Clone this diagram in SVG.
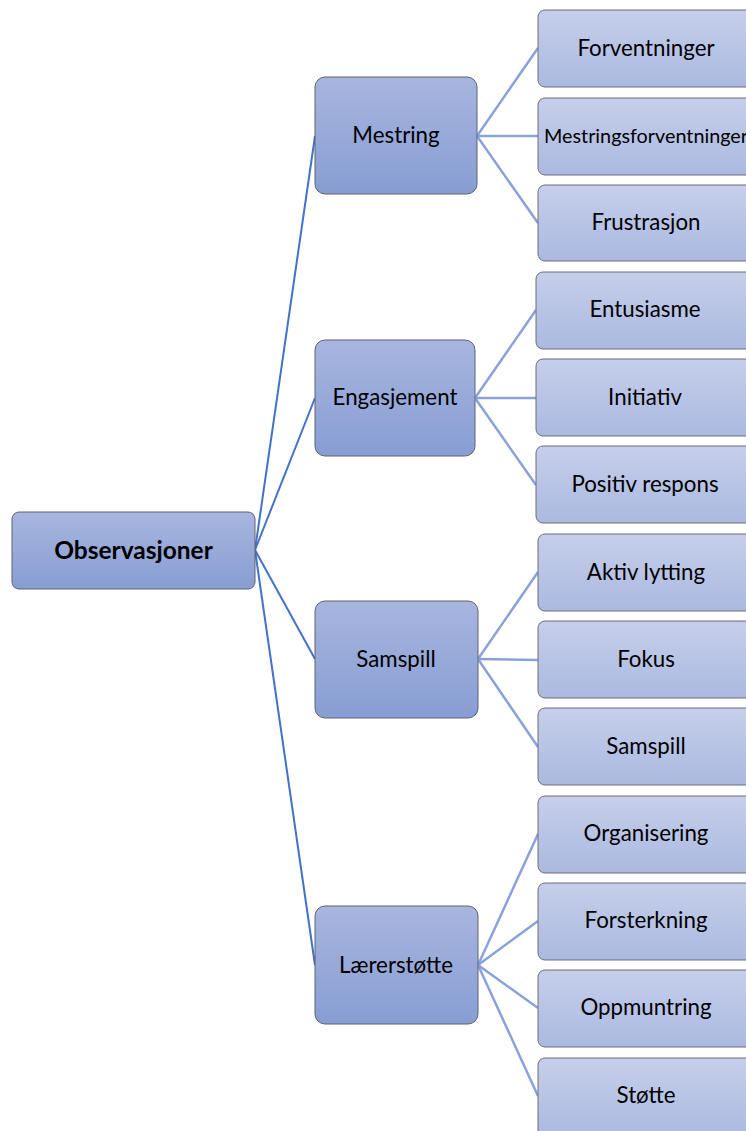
<svg xmlns="http://www.w3.org/2000/svg" width="746" height="1131" viewBox="0 0 746 1131">
<defs>
<linearGradient id="g1" x1="0" y1="0" x2="0" y2="1">
<stop offset="0" stop-color="#a8b6df"/>
<stop offset="1" stop-color="#879dd3"/>
</linearGradient>
<linearGradient id="g2" x1="0" y1="0" x2="0" y2="1">
<stop offset="0" stop-color="#c6cfea"/>
<stop offset="1" stop-color="#abb9e1"/>
</linearGradient>
<style>
.root{fill:url(#g1);stroke:#5f6370;stroke-width:1}
.l1{fill:url(#g1);stroke:#5f6370;stroke-width:1}
.l2{fill:url(#g2);stroke:#6a6e7a;stroke-width:1}
.t{font-family:Lato,"Liberation Sans",sans-serif;font-size:22.3px;fill:#000;text-anchor:middle}
.tb{font-weight:bold;font-size:24.5px}
.c0{stroke:#4472c4;stroke-width:2;fill:none}
.c1{stroke:#8aa2d9;stroke-width:2.5;fill:none}
</style>
</defs>
<rect width="746" height="1131" fill="#fff"/>
<g id="connectors">
<line class="c0" x1="255" y1="550" x2="315" y2="136"/>
<line class="c0" x1="255" y1="550" x2="315" y2="398"/>
<line class="c0" x1="255" y1="550" x2="315" y2="659"/>
<line class="c0" x1="255" y1="550" x2="315" y2="965"/>
<line class="c1" x1="477" y1="136" x2="538" y2="48"/>
<line class="c1" x1="477" y1="136" x2="538" y2="136"/>
<line class="c1" x1="477" y1="136" x2="538" y2="223"/>
<line class="c1" x1="475" y1="398" x2="536" y2="310"/>
<line class="c1" x1="475" y1="398" x2="536" y2="398"/>
<line class="c1" x1="475" y1="398" x2="536" y2="485"/>
<line class="c1" x1="478" y1="659" x2="538" y2="572"/>
<line class="c1" x1="478" y1="659" x2="538" y2="660"/>
<line class="c1" x1="478" y1="659" x2="538" y2="747"/>
<line class="c1" x1="478" y1="965" x2="538" y2="834"/>
<line class="c1" x1="478" y1="965" x2="538" y2="921"/>
<line class="c1" x1="478" y1="965" x2="538" y2="1008"/>
<line class="c1" x1="478" y1="965" x2="538" y2="1096"/>
</g>
<g id="observasjoner"><rect class="root" x="12" y="512" width="243" height="77" rx="7"/><text class="t tb" x="133.5" y="559">Observasjoner</text></g>
<g id="mestring"><rect class="l1" x="315" y="77" width="162" height="117" rx="10"/><text class="t" x="396" y="143">Mestring</text></g>
<g id="engasjement"><rect class="l1" x="315" y="340" width="160" height="116" rx="10"/><text class="t" x="395" y="405">Engasjement</text></g>
<g id="samspill1"><rect class="l1" x="315" y="601" width="163" height="117" rx="10"/><text class="t" x="396" y="667">Samspill</text></g>
<g id="laererstotte"><rect class="l1" x="315" y="906" width="163" height="118" rx="10"/><text class="t" x="396" y="973">Lærerstøtte</text></g>
<g id="forventninger"><rect class="l2" x="538" y="10" width="218" height="77" rx="7"/><text class="t" x="646" y="56">Forventninger</text></g>
<g id="mestringsforventninger"><rect class="l2" x="538" y="98" width="218" height="77" rx="7"/><text class="t" x="646" y="143" style="font-size:19.8px">Mestringsforventninger</text></g>
<g id="frustrasjon"><rect class="l2" x="538" y="185" width="218" height="76" rx="7"/><text class="t" x="646" y="230">Frustrasjon</text></g>
<g id="entusiasme"><rect class="l2" x="536" y="272" width="218" height="77" rx="7"/><text class="t" x="645" y="317">Entusiasme</text></g>
<g id="initiativ"><rect class="l2" x="536" y="359" width="218" height="77" rx="7"/><text class="t" x="645" y="405">Initiativ</text></g>
<g id="positiv-respons"><rect class="l2" x="536" y="446" width="218" height="77" rx="7"/><text class="t" x="645" y="492">Positiv respons</text></g>
<g id="aktiv-lytting"><rect class="l2" x="538" y="534" width="218" height="77" rx="7"/><text class="t" x="646" y="580">Aktiv lytting</text></g>
<g id="fokus"><rect class="l2" x="538" y="621" width="218" height="77" rx="7"/><text class="t" x="646" y="667">Fokus</text></g>
<g id="samspill2"><rect class="l2" x="538" y="708" width="218" height="77" rx="7"/><text class="t" x="646" y="754">Samspill</text></g>
<g id="organisering"><rect class="l2" x="538" y="796" width="218" height="77" rx="7"/><text class="t" x="646" y="841">Organisering</text></g>
<g id="forsterkning"><rect class="l2" x="538" y="883" width="218" height="77" rx="7"/><text class="t" x="646" y="928">Forsterkning</text></g>
<g id="oppmuntring"><rect class="l2" x="538" y="970" width="218" height="77" rx="7"/><text class="t" x="646" y="1015">Oppmuntring</text></g>
<g id="stotte"><rect class="l2" x="538" y="1058" width="218" height="80" rx="7"/><text class="t" x="646" y="1103">Støtte</text></g>
</svg>
